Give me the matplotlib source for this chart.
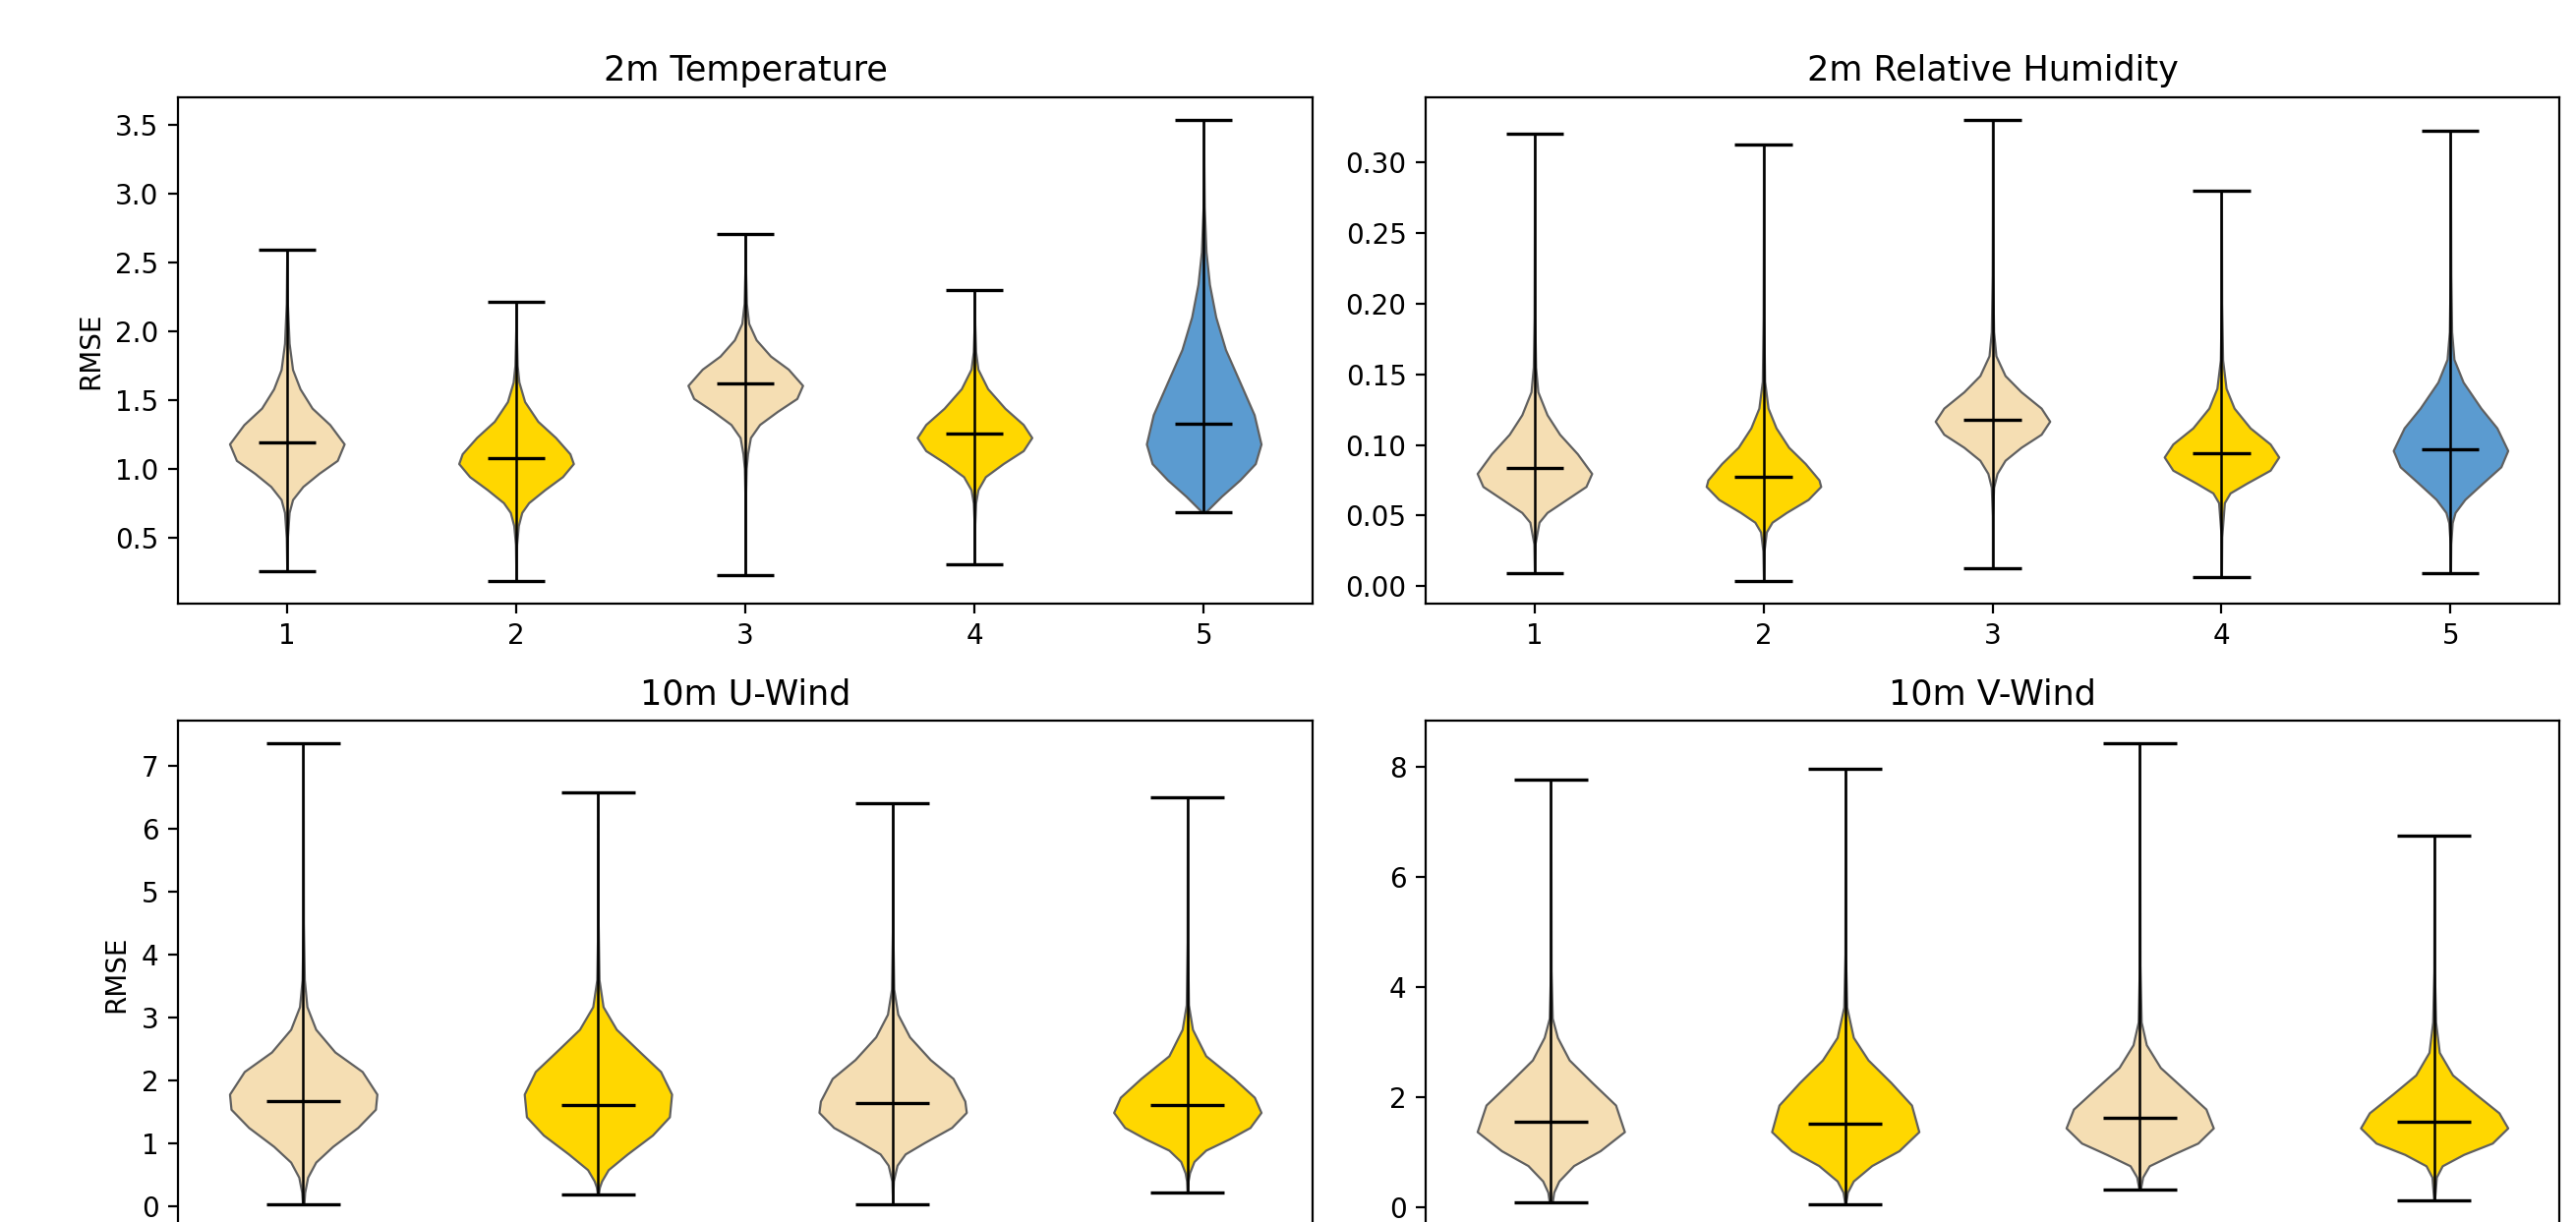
import numpy as np
import matplotlib
matplotlib.use("Agg")
import matplotlib.pyplot as plt

# ==========================================
# 1. 数据 (从图中读取: 每个小提琴的轮廓点 y / 相对宽度 w, 以及中位数)
# ==========================================
titles = ["2m Temperature", "2m Relative Humidity", "10m U-Wind", "10m V-Wind"]

wheat, gold, blue = "#F5DEB3", "#FFD700", "#5B9BD0"
colors_5 = [wheat, gold, wheat, gold, blue]
colors_4 = [wheat, gold, wheat, gold]

# 2m Temperature
t2m_median = [1.19, 1.074, 1.622, 1.257, 1.324]
t2m_y = [
    [0.254, 0.5, 0.682, 0.776, 0.871, 0.966, 1.06, 1.18, 1.32, 1.44, 1.58, 1.72, 1.91, 2.2, 2.587],
    [0.187, 0.45, 0.587, 0.682, 0.753, 0.847, 0.942, 1.037, 1.108, 1.226, 1.344, 1.487, 1.629, 1.75, 2.0, 2.21],
    [0.224, 0.8, 1.0, 1.108, 1.226, 1.321, 1.416, 1.51, 1.605, 1.723, 1.818, 1.936, 2.055, 2.2, 2.45, 2.705],
    [0.303, 0.6, 0.75, 0.847, 0.942, 1.037, 1.131, 1.226, 1.321, 1.439, 1.581, 1.723, 1.85, 2.05, 2.30],
    [0.685, 0.705, 0.8, 0.918, 1.037, 1.179, 1.392, 1.629, 1.865, 2.102, 2.339, 2.576, 2.9, 3.2, 3.53],
]
t2m_w = [
    [0.0, 0.01, 0.04, 0.1, 0.28, 0.56, 0.88, 1.0, 0.75, 0.44, 0.23, 0.1, 0.04, 0.01, 0.0],
    [0.0, 0.01, 0.04, 0.1, 0.22, 0.5, 0.81, 1.0, 0.94, 0.69, 0.38, 0.15, 0.05, 0.02, 0.005, 0.0],
    [0.0, 0.005, 0.015, 0.04, 0.09, 0.25, 0.56, 0.9, 1.0, 0.75, 0.44, 0.19, 0.06, 0.02, 0.005, 0.0],
    [0.0, 0.005, 0.02, 0.06, 0.19, 0.5, 0.85, 1.0, 0.85, 0.53, 0.23, 0.06, 0.02, 0.005, 0.0],
    [0.03, 0.08, 0.31, 0.63, 0.9, 1.0, 0.88, 0.63, 0.38, 0.21, 0.1, 0.04, 0.01, 0.003, 0.0],
]

# 2m Relative Humidity
rh_median = [0.0838, 0.0777, 0.118, 0.094, 0.0968]
rh_y = [
    [0.0091, 0.03, 0.0453, 0.0522, 0.0614, 0.0706, 0.0798, 0.0937, 0.1075, 0.1213, 0.1375, 0.155, 0.19, 0.25, 0.320],
    [0.004, 0.025, 0.0384, 0.0453, 0.0522, 0.0614, 0.0706, 0.0752, 0.0868, 0.0983, 0.112, 0.126, 0.145, 0.19, 0.25, 0.3125],
    [0.013, 0.05, 0.07, 0.0798, 0.0891, 0.0983, 0.1075, 0.1167, 0.126, 0.1375, 0.149, 0.163, 0.18, 0.22, 0.28, 0.3295],
    [0.0065, 0.035, 0.0591, 0.066, 0.0729, 0.0821, 0.0914, 0.1006, 0.112, 0.126, 0.140, 0.16, 0.2, 0.2795],
    [0.0091, 0.03, 0.045, 0.0522, 0.0614, 0.0729, 0.0845, 0.096, 0.112, 0.126, 0.1444, 0.1605, 0.18, 0.22, 0.27, 0.322],
]
rh_w = [
    [0.0, 0.01, 0.08, 0.22, 0.56, 0.9, 1.0, 0.75, 0.44, 0.22, 0.06, 0.02, 0.006, 0.002, 0.0],
    [0.0, 0.01, 0.05, 0.15, 0.4, 0.78, 1.0, 0.97, 0.73, 0.44, 0.22, 0.08, 0.02, 0.006, 0.002, 0.0],
    [0.0, 0.003, 0.02, 0.08, 0.22, 0.5, 0.85, 1.0, 0.85, 0.5, 0.22, 0.06, 0.02, 0.005, 0.001, 0.0],
    [0.0, 0.005, 0.05, 0.15, 0.44, 0.85, 1.0, 0.85, 0.5, 0.22, 0.08, 0.02, 0.004, 0.0],
    [0.0, 0.005, 0.03, 0.08, 0.25, 0.56, 0.88, 1.0, 0.81, 0.53, 0.22, 0.06, 0.02, 0.006, 0.002, 0.0],
]

# 10m U-Wind
u10_median = [1.67, 1.61, 1.64, 1.61]
u10_y = [
    [0.036, 0.22, 0.46, 0.70, 0.95, 1.25, 1.54, 1.78, 2.14, 2.45, 2.81, 3.17, 3.6, 4.5, 7.35],
    [0.18, 0.3, 0.40, 0.58, 0.83, 1.13, 1.42, 1.78, 2.14, 2.45, 2.81, 3.17, 3.6, 4.5, 6.575],
    [0.036, 0.4, 0.65, 0.83, 1.01, 1.25, 1.49, 1.67, 2.03, 2.33, 2.69, 3.05, 3.45, 4.4, 6.41],
    [0.21, 0.4, 0.53, 0.71, 0.89, 1.07, 1.25, 1.49, 1.73, 2.03, 2.39, 2.81, 3.2, 4.2, 6.49],
]
u10_w = [
    [0.01, 0.02, 0.06, 0.17, 0.4, 0.74, 0.98, 1.0, 0.8, 0.43, 0.17, 0.05, 0.015, 0.003, 0.0],
    [0.005, 0.02, 0.05, 0.14, 0.4, 0.74, 0.97, 1.0, 0.85, 0.57, 0.25, 0.07, 0.015, 0.003, 0.0],
    [0.0, 0.01, 0.06, 0.17, 0.43, 0.8, 1.0, 0.98, 0.82, 0.51, 0.23, 0.07, 0.015, 0.003, 0.0],
    [0.003, 0.01, 0.03, 0.09, 0.25, 0.57, 0.85, 1.0, 0.91, 0.63, 0.25, 0.07, 0.015, 0.003, 0.0],
]

# 10m V-Wind
v10_median = [1.56, 1.53, 1.63, 1.56]
v10_y = [
    [0.09, 0.275, 0.48, 0.76, 1.03, 1.376, 1.86, 2.27, 2.68, 3.09, 3.44, 4.3, 7.77],
    [0.063, 0.275, 0.48, 0.76, 1.03, 1.376, 1.86, 2.27, 2.68, 3.09, 3.64, 4.6, 7.97],
    [0.33, 0.55, 0.756, 0.963, 1.169, 1.444, 1.787, 2.13, 2.543, 2.956, 3.37, 4.4, 8.43],
    [0.13, 0.55, 0.756, 0.963, 1.169, 1.444, 1.719, 2.062, 2.407, 2.818, 3.37, 4.3, 6.76],
]
v10_w = [
    [0.02, 0.04, 0.11, 0.31, 0.67, 1.0, 0.88, 0.56, 0.25, 0.09, 0.02, 0.004, 0.0],
    [0.005, 0.03, 0.11, 0.36, 0.73, 1.0, 0.9, 0.62, 0.31, 0.11, 0.02, 0.004, 0.0],
    [0.01, 0.04, 0.13, 0.45, 0.79, 1.0, 0.9, 0.62, 0.28, 0.09, 0.02, 0.004, 0.0],
    [0.005, 0.03, 0.11, 0.4, 0.79, 1.0, 0.88, 0.56, 0.25, 0.07, 0.02, 0.004, 0.0],
]


# ==========================================
# 2. 绘图函数
# ==========================================
def draw_violins(ax, ys, ws, medians, colors, title, ylabel=None):
    stats = []
    for y, w, m in zip(ys, ws, medians):
        stats.append({"coords": np.array(y), "vals": np.array(w),
                      "mean": m, "median": m, "min": y[0], "max": y[-1]})
    pos = list(range(1, len(stats) + 1))
    parts = ax.violin(stats, positions=pos, widths=0.5, showmedians=True)
    for pc, c in zip(parts["bodies"], colors):
        pc.set_facecolor(c)
        pc.set_edgecolor("#606060")
        pc.set_linewidth(0.8)
        pc.set_alpha(1)
    for key in ["cmins", "cmaxes", "cmedians"]:
        parts[key].set_color("black")
        parts[key].set_linewidth(1.2)
    parts["cbars"].set_color("black")
    parts["cbars"].set_linewidth(0.9)
    ax.set_xticks(pos)
    ax.set_title(title, fontsize=12.6)
    if ylabel:
        ax.set_ylabel(ylabel)


fig = plt.figure(figsize=(13.1, 6.215), dpi=200)
W, H = 2620, 1243
ax_tl = fig.add_axes([181 / W, (H - 614) / H, 1154 / W, 515 / H])
ax_tr = fig.add_axes([1450 / W, (H - 614) / H, 1153 / W, 515 / H])
ax_bl = fig.add_axes([181 / W, (H - 1248) / H, 1154 / W, 515 / H])
ax_br = fig.add_axes([1450 / W, (H - 1248) / H, 1153 / W, 515 / H])

draw_violins(ax_tl, t2m_y, t2m_w, t2m_median, colors_5, titles[0], "RMSE")
draw_violins(ax_tr, rh_y, rh_w, rh_median, colors_5, titles[1])
draw_violins(ax_bl, u10_y, u10_w, u10_median, colors_4, titles[2], "RMSE")
draw_violins(ax_br, v10_y, v10_w, v10_median, colors_4, titles[3])

# 下排的 x 轴在原图中被裁掉了, 不显示刻度文字
for ax in (ax_bl, ax_br):
    ax.tick_params(axis="x", labelbottom=False)

fig.savefig("out.png", dpi=200)
